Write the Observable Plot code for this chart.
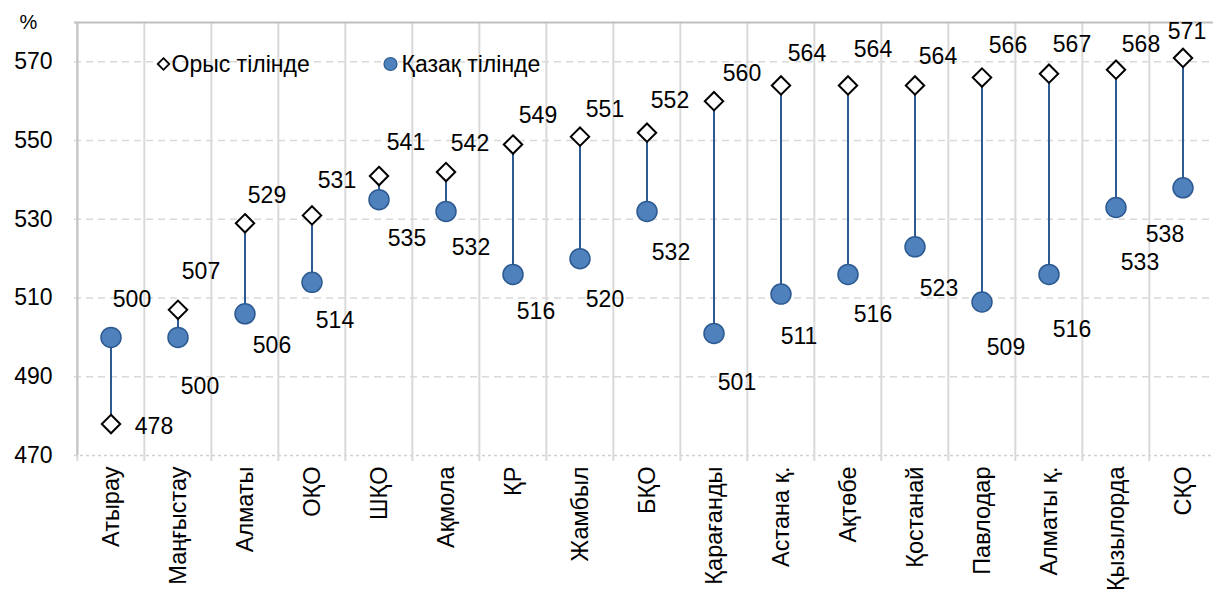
<!DOCTYPE html>
<html>
<head>
<meta charset="utf-8">
<script src="https://cdn.jsdelivr.net/npm/d3@7"></script>
<script src="https://cdn.jsdelivr.net/npm/@observablehq/plot@0.6"></script>
<style>
  body { margin: 0; background: #fff; }
  #chart svg { display: block; }
</style>
</head>
<body>
<div id="chart"></div>
<script>
// ---- data ----
const regions = ["Атырау", "Маңғыстау", "Алматы", "ОҚО", "ШҚО", "Ақмола", "ҚР", "Жамбыл", "БҚО",
  "Қарағанды", "Астана қ.", "Ақтөбе", "Қостанай", "Павлодар", "Алматы қ.", "Қызылорда", "СҚО"];
const russianScores = [478, 507, 529, 531, 541, 542, 549, 551, 552, 560, 564, 564, 564, 566, 567, 568, 571];
const kazakhScores  = [500, 500, 506, 514, 535, 532, 516, 520, 532, 501, 511, 516, 523, 509, 516, 533, 538];
const yTicks = [470, 490, 510, 530, 550, 570];
const seriesNames = ["Орыс тілінде", "Қазақ тілінде"];
const unitLabel = "%";

// ---- layout (label nudges in px, as placed in the original) ----
const ruLabelOffset = [[43,3],[23,-38],[22,-28],[25,-35],[27,-33],[24,-28],[25,-29],[25,-27],[23,-32],
  [28,-28],[26,-32],[25,-36],[23,-29],[26,-32],[23,-29],[25,-25],[4,-26]];
const kzLabelOffset = [[21,-38],[22,49],[27,32],[23,38],[28,39],[25,36],[23,37],[25,41],[24,41],
  [23,49],[18,43],[25,40],[24,42],[24,46],[23,55],[24,55],[-18,47]];

const W = 1213, H = 592;
const mLeft = 74, mTop = 22, bottomPx = 455;
const bw = 67.3;
const font = "'Liberation Sans', Arial, sans-serif";
const fs = 23;

const rows = regions.map((r, i) => ({region: r, ru: russianScores[i], kz: kazakhScores[i]}));

const labelMarks = [];
rows.forEach((d, i) => {
  labelMarks.push(Plot.text([d], {x: "region", y: "ru", text: d => String(d.ru),
    dx: ruLabelOffset[i][0], dy: ruLabelOffset[i][1], fontSize: fs, fill: "#000"}));
  labelMarks.push(Plot.text([d], {x: "region", y: "kz", text: d => String(d.kz),
    dx: kzLabelOffset[i][0], dy: kzLabelOffset[i][1], fontSize: fs, fill: "#000"}));
});

const chart = Plot.plot({
  width: W,
  height: H,
  marginLeft: mLeft,
  marginTop: mTop,
  marginBottom: H - bottomPx,
  marginRight: 0,
  style: {fontFamily: font, background: "#fff", color: "#000"},
  x: {type: "band", domain: regions, range: [mLeft, mLeft + bw * regions.length], padding: 0, axis: null},
  y: {domain: [470, 580], range: [bottomPx, mTop], axis: null},
  marks: [
    Plot.ruleY(yTicks.filter(t => t > 470), {stroke: "#d9d9d9", strokeWidth: 1.5, strokeDasharray: "7,5"}),
    Plot.ruleY([470], {stroke: "#d0d0d0", strokeWidth: 1.5, strokeDasharray: "3,3"}),
    Plot.ruleX(regions, {x: d => d, dx: -bw / 2, y1: 580, y2: 470, insetBottom: -6,
      stroke: "#d9d9d9", strokeWidth: 2}),
    Plot.ruleY([580], {stroke: "#bfbfbf", strokeWidth: 2}),
    Plot.ruleX(regions.slice(0, 1), {x: d => d, dx: -bw / 2, y1: 580, y2: 470, stroke: "#c4c4c4", strokeWidth: 2}),
    Plot.text(yTicks, {frameAnchor: "left", y: d => d, text: d => String(d), textAnchor: "end",
      dx: -22, fontSize: fs, fill: "#000"}),
    Plot.text([unitLabel], {frameAnchor: "top-left", text: d => d, lineAnchor: "middle",
      dx: -55, dy: 0, fontSize: 20, fill: "#000"}),
    Plot.text(regions, {x: d => d, frameAnchor: "bottom", text: d => d, rotate: -90,
      textAnchor: "end", lineAnchor: "middle", dy: 11, fontSize: 23.5, fill: "#000"}),
    Plot.ruleX(rows, {x: "region", y1: "ru", y2: "kz", stroke: "#2e5a94", strokeWidth: 2}),
    Plot.dot(rows, {x: "region", y: "kz", r: 10, fill: "#4f81bd", stroke: "#2c5a91", strokeWidth: 1.5}),
    Plot.dot(rows, {x: "region", y: "ru", symbol: "diamond2", r: 8.3, fill: "#fff", stroke: "#000", strokeWidth: 2}),
    ...labelMarks,
    Plot.dot([0], {frameAnchor: "top-left", dx: 89, dy: 41.5, symbol: "diamond2", r: 5.2,
      fill: "#fff", stroke: "#000", strokeWidth: 1.8}),
    Plot.text([seriesNames[0]], {frameAnchor: "top-left", text: d => d, lineAnchor: "middle", dx: 97, dy: 42,
      textAnchor: "start", fontSize: fs, fill: "#000"}),
    Plot.dot([0], {frameAnchor: "top-left", dx: 316, dy: 41.5, r: 6.5,
      fill: "#4f81bd", stroke: "#2c5a91", strokeWidth: 1.2}),
    Plot.text([seriesNames[1]], {frameAnchor: "top-left", text: d => d, lineAnchor: "middle", dx: 327, dy: 42,
      textAnchor: "start", fontSize: fs, fill: "#000"})
  ]
});

document.getElementById("chart").appendChild(chart);
</script>
</body>
</html>
